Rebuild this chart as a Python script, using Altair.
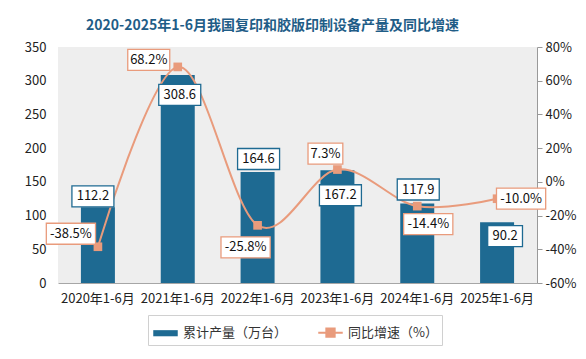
import altair as alt
import pandas as pd

# ---- data ----
categories = ["2020年1-6月", "2021年1-6月", "2022年1-6月", "2023年1-6月", "2024年1-6月", "2025年1-6月"]
output = [112.2, 308.6, 164.6, 167.2, 117.9, 90.2]
growth = [-38.5, 68.2, -25.8, 7.3, -14.4, -10.0]
output_labels = ["112.2", "308.6", "164.6", "167.2", "117.9", "90.2"]
growth_labels = ["-38.5%", "68.2%", "-25.8%", "7.3%", "-14.4%", "-10.0%"]
series_bar = "累计产量（万台）"
series_line = "同比增速（%）"
title_text = "2020-2025年1-6月我国复印和胶版印制设备产量及同比增速"

# ---- styles ----
BLUE = "#1e6a92"
SAL = "#e99b7c"
FONT = "Noto Sans CJK SC"
bar_label_offsets = [(-5, -11), (2, 20), (1, -13), (3, 25), (1, -14), (8, 14)]
line_label_offsets = [(-27, -13), (-29, -7), (-12, 22), (-12, -16), (11, 18), (24, 0)]

df = pd.DataFrame({
    "cat": categories,
    "output": output,
    "growth": growth,
    "olab": output_labels,
    "glab": growth_labels,
    "idx": list(range(len(categories))),
    "series": series_bar,
})

x_enc = alt.X(
    "cat:N", sort=categories,
    scale=alt.Scale(paddingInner=0, paddingOuter=0),
    axis=alt.Axis(title=None, labelAngle=0, ticks=False, domainColor="#a6a6a6",
                  labelFontSize=13, labelColor="#222", labelPadding=9, labelFont=FONT),
)

y_left_axis = alt.Y(
    "output:Q", scale=alt.Scale(domain=[0, 350]),
    axis=alt.Axis(title=None, values=list(range(0, 351, 50)), domain=False, ticks=False,
                  grid=False, labelFontSize=13, labelColor="#222", labelPadding=12, labelFont=FONT),
)
y_left = alt.Y("output:Q", scale=alt.Scale(domain=[0, 350]), axis=None)

y_right_axis = alt.Y(
    "growth:Q", scale=alt.Scale(domain=[-60, 80]),
    axis=alt.Axis(title=None, orient="right", values=list(range(-60, 81, 20)),
                  labelExpr="datum.value + '%'", domainColor="#999999", tickColor="#999999",
                  tickSize=5, grid=False, labelFontSize=13, labelColor="#222",
                  labelPadding=3, labelFont=FONT),
)
y_right = alt.Y("growth:Q", scale=alt.Scale(domain=[-60, 80]), axis=None)

shape_expr = (
    f"datum.value == '{series_bar}' ? 'M-1,-0.25H1V0.25H-1Z' : "
    "'M-1,0H1M-0.34,-0.34H0.34V0.34H-0.34Z'"
)
stroke_expr = f"datum.value == '{series_bar}' ? 'transparent' : '{SAL}'"

base = alt.Chart(df)

bars = base.mark_bar(size=34).encode(
    x=x_enc,
    y=y_left_axis,
    color=alt.Color(
        "series:N",
        scale=alt.Scale(domain=[series_bar, series_line], range=[BLUE, SAL]),
        legend=alt.Legend(
            title=None, orient="none", legendX=90, legendY=268, direction="horizontal",
            symbolType=alt.ExprRef(expr=shape_expr),
            symbolStrokeColor=alt.ExprRef(expr=stroke_expr),
            symbolStrokeWidth=2, symbolSize=600, symbolOpacity=1,
            labelFontSize=13, labelColor="#333", labelFont=FONT, labelOffset=4,
            strokeColor="#d0d0d0", fillColor="white", padding=4, columnPadding=26,
        ),
    ),
)

line = base.mark_line(color=SAL, strokeWidth=2, interpolate="cardinal").encode(
    x=x_enc, y=y_right_axis
)
points = base.mark_point(shape="square", filled=True, size=75, color=SAL, opacity=1).encode(
    x=x_enc, y=y_right
)

layers = [bars, line, points]


def box_path(w, h):
    k = h / w
    return f"M-1,-{k:.4f}H1V{k:.4f}H-1Z"


for i in range(len(categories)):
    for labels, offsets, y_enc, col, field in [
        (output_labels, bar_label_offsets, y_left, BLUE, "olab"),
        (growth_labels, line_label_offsets, y_right, SAL, "glab"),
    ]:
        w = 7.2 * len(labels[i]) + 6
        h = 21
        dx, dy = offsets[i]
        sub = base.transform_filter(alt.datum.idx == i)
        box = sub.mark_point(
            shape=box_path(w, h), size=w * w, filled=True, fill="white", stroke=col,
            strokeWidth=1.3, opacity=1, fillOpacity=1, strokeOpacity=1,
            xOffset=dx, yOffset=dy,
        ).encode(x=x_enc, y=y_enc)
        txt = sub.mark_text(
            fontSize=13, color="#111", font=FONT, baseline="middle", align="center",
            xOffset=dx, yOffset=dy,
        ).encode(x=x_enc, y=y_enc, text=f"{field}:N")
        layers += [box, txt]

chart = alt.layer(*layers).resolve_scale(y="independent").properties(
    width=479, height=236,
    padding={"left": 50, "top": 39, "right": 41, "bottom": 68},
    autosize=alt.AutoSizeParams(type="none"),
    background="white",
    title=alt.TitleParams(
        title_text, font=FONT, fontSize=14, fontWeight="bold", color="#1f5d87",
        anchor="middle", dx=-25, offset=8,
    ),
).configure_view(fill="#eeeeee", stroke=None).configure_axis(grid=False)

chart.save("out.html", embed_options={"renderer": "svg", "actions": False})
